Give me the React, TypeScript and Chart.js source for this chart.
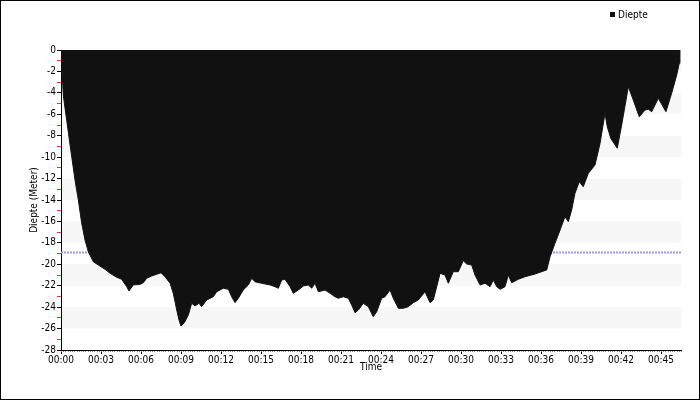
import React, { useEffect, useRef } from "react";
import { Chart, registerables } from "chart.js";

Chart.register(...registerables);

// Time in minutes since dive start
const times = [
  0, 0.04, 0.17, 0.68, 1.05, 1.3, 1.55, 1.8, 2.05, 2.42,
  2.8, 3.3, 3.68, 4.18, 4.55, 4.93, 5.1, 5.42, 5.93, 6.17,
  6.43, 6.8, 7.18, 7.5, 7.8, 8.18, 8.42, 8.68, 8.85, 9.0,
  9.25, 9.55, 9.8, 10.05, 10.35, 10.55, 10.93, 11.42, 11.68, 12.17,
  12.55, 12.8, 13.05, 13.3, 13.67, 14.05, 14.3, 14.55, 15.05, 15.68,
  16.05, 16.3, 16.55, 16.8, 17.18, 17.42, 17.8, 18.17, 18.55, 18.8,
  19.05, 19.3, 19.8, 20.18, 20.55, 20.8, 21.17, 21.55, 21.8, 22.05,
  22.3, 22.67, 23.05, 23.42, 23.68, 24.05, 24.3, 24.68, 24.92, 25.3,
  25.67, 26.05, 26.42, 26.8, 27.3, 27.68, 27.92, 28.18, 28.43, 28.8,
  29.05, 29.42, 29.8, 30.17, 30.43, 30.8, 31.05, 31.43, 31.8, 32.18,
  32.42, 32.68, 32.93, 33.3, 33.55, 33.8, 34.3, 34.8, 35.55, 36.05,
  36.43, 36.68, 37.05, 37.43, 37.8, 38.05, 38.3, 38.55, 38.87, 39.17,
  39.55, 40.05, 40.43, 40.8, 40.97, 41.23, 41.72, 42.05, 42.55, 42.92,
  43.37, 43.8, 44.05, 44.3, 44.8, 45.37, 45.8, 46.18, 46.37, 46.42,
];

// Depth in meters
const depths = [
  0, -0.93, -4.2, -8.87, -12.13, -14.0, -16.15, -17.73, -18.83, -19.76,
  -20.07, -20.47, -20.84, -21.21, -21.4, -22.09, -22.49, -21.93, -21.87, -21.72,
  -21.31, -21.09, -20.93, -20.79, -21.16, -21.77, -22.71, -24.27, -25.2, -25.76,
  -25.45, -24.73, -23.64, -23.89, -23.64, -23.96, -23.33, -23.03, -22.56, -22.24,
  -22.33, -23.03, -23.58, -23.17, -22.4, -21.93, -21.31, -21.63, -21.77, -21.93,
  -22.09, -22.24, -21.47, -21.4, -22.09, -22.71, -22.4, -22.03, -21.93, -22.24,
  -21.77, -22.56, -22.4, -22.71, -23.03, -23.17, -23.03, -23.17, -23.8, -24.52,
  -24.27, -23.64, -23.96, -24.89, -24.42, -23.17, -23.03, -22.4, -23.17, -24.11,
  -24.11, -23.96, -23.58, -23.33, -22.56, -23.58, -23.33, -22.09, -20.84, -21.0,
  -21.77, -20.69, -20.69, -19.66, -19.97, -20.07, -21.0, -21.93, -21.77, -22.09,
  -21.47, -22.09, -22.33, -22.09, -21.0, -21.72, -21.4, -21.16, -20.91, -20.69,
  -20.53, -19.29, -18.04, -16.8, -15.56, -16.02, -14.93, -13.37, -12.29, -12.76,
  -11.51, -10.73, -8.71, -5.91, -7.16, -8.24, -9.17, -7.0, -3.43, -4.67,
  -6.23, -5.6, -5.53, -5.76, -4.51, -5.76, -4.04, -2.33, -1.24, 0,
];

const seriesLabel = "Diepte";
const xTitle = "Time";
const yTitle = "Diepte (Meter)";
const referenceDepth = -18.85;
const xMin = 0;
const xMax = 46.5;
const xStep = 3;
const yMin = -28;
const yMax = 0;
const bandStarts = [0, -4, -8, -12, -16, -20, -24];

const FONT_FAMILY = "'DejaVu Sans Condensed', 'DejaVu Sans', sans-serif";
const FONT = { family: FONT_FAMILY, size: 10 };
const FILL = "#111111";

const pad2 = (n: number) => (n < 10 ? "0" + n : "" + n);

const decorPlugin = {
  id: "decor",
  beforeDatasetsDraw(chart: any) {
    const { ctx, chartArea, scales } = chart;
    const y = scales.y;
    ctx.save();
    ctx.fillStyle = "#f7f7f7";
    bandStarts.forEach((b) => {
      const y1 = y.getPixelForValue(b);
      const y2 = y.getPixelForValue(b - 2);
      ctx.fillRect(chartArea.left + 1, y1, chartArea.right - chartArea.left - 1, y2 - y1);
    });
    // reference line
    const ry = Math.round(y.getPixelForValue(referenceDepth)) + 0.5;
    ctx.strokeStyle = "#9b9bf5";
    ctx.lineWidth = 2;
    ctx.setLineDash([2, 1]);
    ctx.beginPath();
    ctx.moveTo(chartArea.left, ry);
    ctx.lineTo(chartArea.right, ry);
    ctx.stroke();
    ctx.restore();
  },
  afterDraw(chart: any) {
    const { ctx, chartArea, scales, width, height } = chart;
    const x = scales.x;
    ctx.save();
    // minor x ticks every 10 seconds
    ctx.fillStyle = "#8a8a8a";
    for (let i = 0; i <= xMax * 6; i++) {
      const px = Math.round(x.getPixelForValue(i / 6));
      ctx.fillRect(px, chartArea.bottom + 1, 1, 1);
    }
    // legend
    ctx.fillStyle = FILL;
    ctx.fillRect(610, 12, 5, 5);
    ctx.fillStyle = "#000";
    ctx.font = `10px ${FONT_FAMILY}`;
    ctx.textBaseline = "middle";
    ctx.textAlign = "left";
    ctx.fillText(seriesLabel, 618, 15);
    // outer border
    ctx.strokeStyle = "#000";
    ctx.lineWidth = 1;
    ctx.strokeRect(0.5, 0.5, width - 1, height - 1);
    ctx.restore();
  },
};

export default function App() {
  const ref = useRef<HTMLCanvasElement | null>(null);
  useEffect(() => {
    if (!ref.current) return;
    const chart = new Chart(ref.current, {
      type: "line",
      data: {
        datasets: [
          {
            label: seriesLabel,
            data: times.map((t, i) => ({ x: t, y: depths[i] })),
            fill: "origin",
            backgroundColor: FILL,
            borderColor: FILL,
            borderWidth: 1,
            pointRadius: 0,
            tension: 0,
          },
        ],
      },
      options: {
        animation: false,
        responsive: false,
        layout: { padding: { left: 0, top: 50, right: 19, bottom: 0 } },
        plugins: { legend: { display: false }, tooltip: { enabled: false } },
        scales: {
          x: {
            type: "linear",
            min: xMin,
            max: xMax,
            afterFit: (s: any) => {
              s.height = 50;
            },
            ticks: {
              stepSize: xStep,
              includeBounds: false,
              autoSkip: false,
              maxRotation: 0,
              padding: 0,
              color: "#000",
              font: FONT,
              callback: (v: any) => "00:" + pad2(Number(v)),
            },
            grid: { drawOnChartArea: false, tickLength: 4, color: "#000" },
            border: { color: "#000", width: 1 },
            title: { display: true, text: xTitle, color: "#000", font: FONT, padding: { top: 0, bottom: 27 } },
          },
          y: {
            min: yMin,
            max: yMax,
            afterFit: (s: any) => {
              s.width = 61;
            },
            ticks: {
              stepSize: 1,
              includeBounds: false,
              autoSkip: false,
              padding: 1,
              color: "#000",
              font: FONT,
              callback: (v: any) => (Number(v) % 2 === 0 ? String(v) : ""),
            },
            grid: {
              drawOnChartArea: false,
              tickLength: 4,
              tickColor: (c: any) => (c.tick && Math.abs(c.tick.value) % 2 === 1 ? "#ff3030" : "#000"),
            },
            border: { color: "#000", width: 1 },
            title: { display: true, text: yTitle, color: "#000", font: FONT, padding: { top: 28, bottom: 0 } },
          },
        },
      },
      plugins: [decorPlugin],
    });
    return () => chart.destroy();
  }, []);
  return (
    <div style={{ position: "fixed", left: 0, top: 0, width: 700, height: 400, background: "#fff" }}>
      <canvas ref={ref} width={700} height={400} style={{ width: 700, height: 400, display: "block" }} />
    </div>
  );
}
